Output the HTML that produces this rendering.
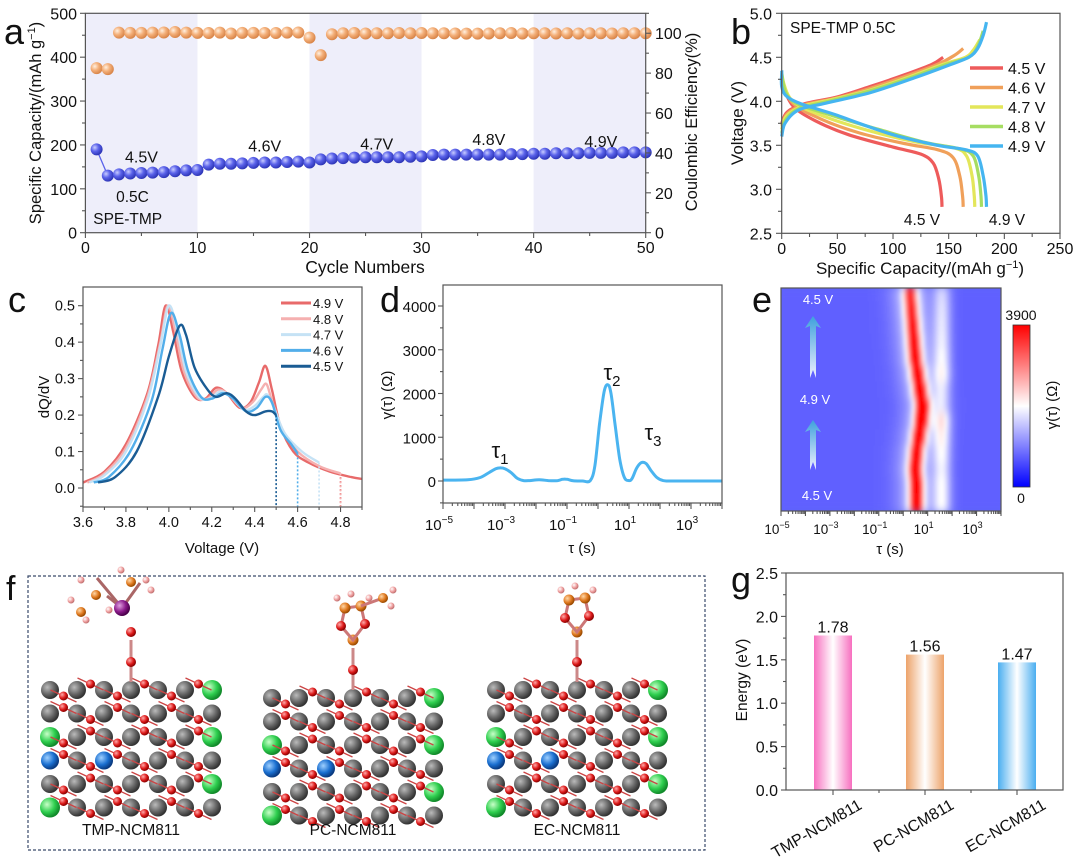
<!DOCTYPE html>
<html><head><meta charset="utf-8"><style>
html,body{margin:0;padding:0;background:#fff}
svg{display:block;font-family:"Liberation Sans",Arial,sans-serif}
</style></head><body>
<svg id="fig" width="1080" height="865" viewBox="0 0 1080 865" xmlns="http://www.w3.org/2000/svg">
<defs>
<radialGradient id="gBlue" cx="35%" cy="35%" r="65%"><stop offset="0" stop-color="#c8ccff"/><stop offset="0.5" stop-color="#5a62ea"/><stop offset="1" stop-color="#2f37b8"/></radialGradient>
<radialGradient id="gOr" cx="35%" cy="35%" r="65%"><stop offset="0" stop-color="#fff0e0"/><stop offset="0.5" stop-color="#f4b07a"/><stop offset="1" stop-color="#d9864a"/></radialGradient>
<radialGradient id="gGrey" cx="35%" cy="35%" r="65%"><stop offset="0" stop-color="#bbb"/><stop offset="0.6" stop-color="#666"/><stop offset="1" stop-color="#333"/></radialGradient>
<radialGradient id="gRed" cx="35%" cy="35%" r="65%"><stop offset="0" stop-color="#ffaaaa"/><stop offset="0.6" stop-color="#dd1a1a"/><stop offset="1" stop-color="#8a0000"/></radialGradient>
<radialGradient id="gGreen" cx="35%" cy="35%" r="65%"><stop offset="0" stop-color="#c8ffc8"/><stop offset="0.6" stop-color="#2fcf4f"/><stop offset="1" stop-color="#118a2a"/></radialGradient>
<radialGradient id="gBlu2" cx="35%" cy="35%" r="65%"><stop offset="0" stop-color="#9fd0ff"/><stop offset="0.6" stop-color="#1a6fd0"/><stop offset="1" stop-color="#0a3a80"/></radialGradient>
<radialGradient id="gOr2" cx="35%" cy="35%" r="65%"><stop offset="0" stop-color="#ffd8a8"/><stop offset="0.6" stop-color="#e07a20"/><stop offset="1" stop-color="#9a4a00"/></radialGradient>
<radialGradient id="gPur" cx="35%" cy="35%" r="65%"><stop offset="0" stop-color="#e0a0e0"/><stop offset="0.6" stop-color="#8a1a8a"/><stop offset="1" stop-color="#4a004a"/></radialGradient>
<radialGradient id="gPink" cx="35%" cy="35%" r="65%"><stop offset="0" stop-color="#fff"/><stop offset="0.6" stop-color="#f0a0a0"/><stop offset="1" stop-color="#c07070"/></radialGradient>
<linearGradient id="barPink" x1="0" x2="1"><stop offset="0" stop-color="#f76fbf"/><stop offset="0.5" stop-color="#fff"/><stop offset="1" stop-color="#f76fbf"/></linearGradient>
<linearGradient id="barOr" x1="0" x2="1"><stop offset="0" stop-color="#eda36a"/><stop offset="0.5" stop-color="#fff"/><stop offset="1" stop-color="#eda36a"/></linearGradient>
<linearGradient id="barBl" x1="0" x2="1"><stop offset="0" stop-color="#4aaef0"/><stop offset="0.5" stop-color="#fff"/><stop offset="1" stop-color="#4aaef0"/></linearGradient>
<linearGradient id="cbar" x1="0" y1="1" x2="0" y2="0"><stop offset="0" stop-color="#0000ff"/><stop offset="0.5" stop-color="#ffffff"/><stop offset="1" stop-color="#ff0000"/></linearGradient>
<linearGradient id="arrowG" x1="0" y1="1" x2="0" y2="0"><stop offset="0" stop-color="#ffffff"/><stop offset="1" stop-color="#3aa8d8"/></linearGradient>
<filter id="blur" x="-5%" y="-5%" width="110%" height="110%"><feGaussianBlur stdDeviation="1.5 5"/></filter>
<clipPath id="clipE"><rect x="781" y="288" width="220" height="223"/></clipPath>
<clipPath id="clipD"><rect x="443" y="285" width="279" height="218"/></clipPath>
<clipPath id="clipC"><rect x="83" y="287" width="279" height="220"/></clipPath>
</defs>
<g id="root"></g>
</svg>
<script>
// ---------- DATA ----------
// panel a
const cyclesA = [1,2,3,4,5,6,7,8,9,10,11,12,13,14,15,16,17,18,19,20,21,22,23,24,25,26,27,28,29,30,31,32,33,34,35,36,37,38,39,40,41,42,43,44,45,46,47,48,49,50];
const capacityA = [190,130,133,135,136,137,138,140,142,143,155,157,157,158,159,160,160,161,162,160,167,169,170,171,172,172,172,172,173,174,177,178,178,178,178,178,178,179,179,180,180,181,181,181,182,182,182,183,183,183];
const ceA = [82.5,82,100.3,100.2,100.2,100.3,100.4,100.6,100.3,100.2,100.1,100.3,99.9,100.2,100.2,100.1,100.1,100.3,100.4,97.8,89,99.5,100,100.1,99.9,100,100,100.1,100,100.1,100,100,99.9,99.8,99.8,99.9,100,100.1,99.9,100,100,99.9,100,99.9,100,100,99.9,100,100,100];
const voltLabelsA = ["4.5V","4.6V","4.7V","4.8V","4.9V"];
// panel b
const seriesB = ["4.5 V","4.6 V","4.7 V","4.8 V","4.9 V"];
const chargeB = [
 [[0,3.75],[5,3.88],[20,3.97],[50,4.05],[80,4.17],[110,4.3],[135,4.42],[145,4.5]],
 [[0,3.72],[5,3.86],[20,3.96],[50,4.04],[80,4.15],[110,4.28],[140,4.42],[155,4.52],[163,4.6]],
 [[0,3.68],[4,3.83],[18,3.94],[45,4.02],[80,4.13],[115,4.28],[145,4.42],[165,4.5],[172,4.58],[178,4.7]],
 [[0,3.64],[4,3.8],[16,3.92],[42,4.0],[80,4.12],[118,4.28],[148,4.42],[168,4.5],[176,4.62],[181,4.8]],
 [[0,3.6],[3,3.75],[15,3.9],[40,3.98],[80,4.1],[120,4.27],[150,4.41],[168,4.5],[176,4.6],[181,4.75],[184,4.9]]];
const dischargeB = [
 [[0,4.2],[10,3.95],[30,3.78],[60,3.62],[100,3.48],[125,3.4],[136,3.3],[141,3.12],[143.5,2.92],[144,2.8]],
 [[0,4.24],[10,3.98],[35,3.8],[70,3.64],[110,3.52],[140,3.45],[154,3.36],[160,3.15],[162.5,2.92],[163,2.8]],
 [[0,4.28],[10,4.0],[40,3.82],[80,3.66],[120,3.54],[155,3.47],[166,3.38],[171,3.15],[173,2.92],[173.5,2.8]],
 [[0,4.32],[8,4.02],[45,3.84],[90,3.67],[130,3.53],[160,3.46],[172,3.38],[177,3.15],[179,2.92],[179.5,2.8]],
 [[0,4.35],[5,4.05],[50,3.84],[100,3.62],[140,3.5],[165,3.45],[176,3.38],[181,3.15],[183.5,2.92],[184,2.8]]];
// panel c
const seriesC = ["4.9 V","4.8 V","4.7 V","4.6 V","4.5 V"];
const dqdvC = [
 [[3.6,0.015],[3.7,0.045],[3.8,0.12],[3.9,0.26],[3.95,0.39],[3.985,0.5],[4.02,0.43],[4.06,0.32],[4.12,0.25],[4.17,0.245],[4.22,0.275],[4.27,0.26],[4.33,0.22],[4.38,0.235],[4.42,0.29],[4.45,0.335],[4.48,0.27],[4.52,0.17],[4.58,0.1],[4.65,0.07],[4.75,0.045],[4.85,0.03],[4.9,0.025]],
 [[3.62,0.015],[3.7,0.04],[3.8,0.11],[3.9,0.25],[3.96,0.4],[3.995,0.5],[4.03,0.43],[4.07,0.32],[4.13,0.25],[4.18,0.245],[4.23,0.27],[4.28,0.255],[4.34,0.22],[4.39,0.235],[4.43,0.27],[4.455,0.285],[4.48,0.24],[4.53,0.16],[4.6,0.1],[4.7,0.06],[4.8,0.04]],
 [[3.63,0.015],[3.7,0.035],[3.8,0.1],[3.9,0.24],[3.96,0.39],[4.0,0.5],[4.04,0.43],[4.08,0.32],[4.14,0.25],[4.19,0.245],[4.24,0.265],[4.29,0.25],[4.35,0.215],[4.4,0.225],[4.44,0.25],[4.46,0.255],[4.49,0.22],[4.54,0.15],[4.62,0.1],[4.7,0.07]],
 [[3.65,0.015],[3.72,0.03],[3.82,0.1],[3.92,0.24],[3.97,0.38],[4.01,0.48],[4.05,0.42],[4.09,0.32],[4.15,0.25],[4.2,0.245],[4.25,0.26],[4.3,0.245],[4.36,0.21],[4.41,0.22],[4.45,0.25],[4.48,0.235],[4.52,0.16],[4.57,0.12],[4.6,0.095]],
 [[3.67,0.015],[3.75,0.03],[3.85,0.1],[3.95,0.25],[4.0,0.36],[4.05,0.445],[4.08,0.42],[4.12,0.33],[4.18,0.27],[4.22,0.25],[4.27,0.26],[4.31,0.245],[4.36,0.21],[4.4,0.2],[4.45,0.21],[4.48,0.21],[4.5,0.2]]];
const cutoffC = [4.8,4.8,4.7,4.6,4.5];
const cutoffValC = [0.03,0.04,0.07,0.095,0.2];
// panel d
const logTauD = [-5,-4.2,-3.8,-3.5,-3.3,-3.15,-3.0,-2.8,-2.6,-2.4,-2.2,-1.9,-1.6,-1.3,-1.15,-1.0,-0.8,-0.5,-0.25,-0.1,0.05,0.2,0.32,0.42,0.55,0.7,0.85,1.0,1.1,1.25,1.4,1.55,1.7,1.9,2.1,2.3,3,4];
const gammaD = [20,30,80,200,280,300,280,190,60,10,10,30,10,10,40,40,5,0,10,350,1300,2050,2200,2000,1300,500,80,10,60,300,420,400,250,80,10,0,0,0];
// panel e (rows top->bottom)
const rowPeakE = [0.25,0.3,0.35,0.4,0.45,0.55,0.65,0.75,0.7,0.6,0.5,0.45,0.5,0.5];
const rowAmpE = [0.66,0.7,0.74,0.78,0.82,0.86,0.92,1.0,0.98,0.9,0.82,0.84,0.86,0.84];
const rowAmp3E = [0.22,0.24,0.25,0.26,0.28,0.3,0.22,0.2,0.32,0.3,0.28,0.26,0.28,0.28];
// panel g
const catsG = ["TMP-NCM811","PC-NCM811","EC-NCM811"];
const valsG = [1.78,1.56,1.47];

// ---------- HELPERS ----------
const NS="http://www.w3.org/2000/svg";
const root=document.getElementById('root');
function mk(tag,attrs,parent,txt){const e=document.createElementNS(NS,tag);for(const k in attrs)e.setAttribute(k,attrs[k]);if(txt!==undefined)e.textContent=txt;(parent||root).appendChild(e);return e;}
function txt(x,y,s,size,opt,parent){opt=opt||{};const a={x:x,y:y,'font-size':size,fill:opt.fill||'#111','text-anchor':opt.anchor||'middle'};if(opt.rot!==undefined)a.transform='rotate('+opt.rot+' '+x+' '+y+')';if(opt.style)a.style=opt.style;const e=mk('text',a,parent,s);return e;}
function lin(d0,d1,p0,p1){return v=>p0+(v-d0)*(p1-p0)/(d1-d0);}
function smooth(pts){if(pts.length<2)return'';let d='M'+pts[0][0].toFixed(1)+','+pts[0][1].toFixed(1);for(let i=0;i<pts.length-1;i++){const p0=pts[i-1]||pts[i],p1=pts[i],p2=pts[i+1],p3=pts[i+2]||p2;const c1=[p1[0]+(p2[0]-p0[0])/6,p1[1]+(p2[1]-p0[1])/6],c2=[p2[0]-(p3[0]-p1[0])/6,p2[1]-(p3[1]-p1[1])/6];d+='C'+c1[0].toFixed(1)+','+c1[1].toFixed(1)+' '+c2[0].toFixed(1)+','+c2[1].toFixed(1)+' '+p2[0].toFixed(1)+','+p2[1].toFixed(1);}return d;}
function box(x,y,w,h,name){const r=mk('rect',{x:x,y:y,width:w,height:h,fill:'none',stroke:'#555','stroke-width':1.2});}
function tick(x1,y1,x2,y2){mk('line',{x1:x1,y1:y1,x2:x2,y2:y2,stroke:'#555','stroke-width':1.1});}

// ---------- PANEL A ----------
(function(){
const g=mk('g',{});
const X=lin(0,50,85.4,645.7),Y=lin(0,500,232.7,13.3),Y2=lin(0,110,232.7,13.3);
[[0,10],[20,30],[40,50]].forEach(r=>{const e=mk('rect',{x:X(r[0]),y:13.3,width:X(r[1])-X(r[0]),height:219.4,fill:'#eeeefa'},g);});
box(85.4,13.3,560.3,219.4,'plot-area-a');
for(let v=0;v<=500;v+=50){const y=Y(v);tick(85.4,y,v%100?82:80,y);if(v%100===0)txt(77,y+6,String(v),16,{anchor:'end',name:'y-tick-label'},g);}
for(let v=0;v<=110;v+=10){const y=Y2(v);tick(645.7,y,v%20?649:651,y);if(v%20===0&&v<=100)txt(655,y+6,String(v),16,{anchor:'start',name:'y2-tick-label'},g);}
for(let v=0;v<=50;v+=5){const x=X(v);tick(x,232.7,x,v%10?236:238);if(v%10===0)txt(x,253,String(v),16,{name:'x-tick-label'},g);}
txt(365,273,'Cycle Numbers',17.5,{name:'x-axis-title'},g);
const yt=txt(41,123,'Specific Capacity/(mAh g',16.5,{rot:-90,name:'y-axis-title'},g);
mk('tspan',{dy:-6,'font-size':11},yt,'−1');mk('tspan',{dy:6},yt,')');
txt(697,122,'Coulombic Efficiency(%)',16.5,{rot:-90,name:'y2-axis-title'},g);
txt(4,44,'a',36,{anchor:'start',name:'panel-label-a'},g);
let d='';cyclesA.forEach((c,i)=>{d+=(i?'L':'M')+X(c)+','+Y(capacityA[i]);});
const ln=mk('path',{d:d,fill:'none',stroke:'#5a62ea','stroke-width':1.3},g);
cyclesA.forEach((c,i)=>{const p=mk('circle',{cx:X(c),cy:Y(capacityA[i]),r:6,fill:'url(#gBlue)'},g);});
cyclesA.forEach((c,i)=>{const p=mk('circle',{cx:X(c),cy:Y2(ceA[i]),r:6,fill:'url(#gOr)'},g);});
const ann=[[5,160],[16,185],[26,190],[36,200],[46,195]];
voltLabelsA.forEach((s,i)=>txt(X(ann[i][0]),Y(ann[i][1]),s,16,{name:'voltage-annotation'},g));
txt(X(4.2),Y(70),'0.5C',15.5,{name:'rate-annotation'},g);
txt(X(0.7),Y(20),'SPE-TMP',15.5,{anchor:'start',name:'sample-annotation'},g);
})();

// ---------- PANEL B ----------
(function(){
const g=mk('g',{});
const X=lin(0,250,781.7,1060),Y=lin(2.5,5,233.3,13.3);
const cols=['#ee5b5b','#f0a05a','#e3e65a','#a6dd62','#45b5f0'];
box(781.7,13.3,278.3,220,'plot-area-b');
for(let v=2.5;v<=5.001;v+=0.25){const y=Y(v);const major=Math.abs(v*2-Math.round(v*2))<0.01;tick(781.7,y,major?776:778,y);if(major)txt(772,y+6,v.toFixed(1),16,{anchor:'end',name:'y-tick-label'},g);}
for(let v=0;v<=250;v+=25){const x=X(v);tick(x,233.3,x,v%50?237:239);if(v%50===0)txt(x,254,String(v),16,{name:'x-tick-label'},g);}
const xt=txt(920,274,'Specific Capacity/(mAh g',17,{name:'x-axis-title'},g);mk('tspan',{dy:-6,'font-size':11},xt,'−1');mk('tspan',{dy:6},xt,')');
txt(743,123,'Voltage (V)',17,{rot:-90,name:'y-axis-title'},g);
txt(731,44,'b',36,{anchor:'start',name:'panel-label-b'},g);
txt(790,33,'SPE-TMP 0.5C',15.5,{anchor:'start',name:'condition-annotation'},g);
seriesB.forEach((s,i)=>{
 [chargeB[i],dischargeB[i]].forEach((arr,k)=>{const p=mk('path',{d:smooth(arr.map(q=>[X(q[0]),Y(q[1])])),fill:'none',stroke:cols[i],'stroke-width':3.2},g);});
});
seriesB.forEach((s,i)=>{const y=68+i*19.5;const l=mk('line',{x1:970,y1:y,x2:1003,y2:y,stroke:cols[i],'stroke-width':3.5},g);txt(1008,y+6,s,16,{anchor:'start',name:'legend-entry'},g);});
txt(922,225,'4.5 V',15.5,{name:'curve-annotation'},g);
txt(1007,225,'4.9 V',15.5,{name:'curve-annotation'},g);
})();

// ---------- PANEL C ----------
(function(){
const g=mk('g',{});
const X=lin(3.6,4.9,83,362),Y=lin(0,0.5,488,305.7);
const cols=['#e86a6a','#f5b0b0','#c5e2f5','#52aeea','#1a5c94'];
box(83,287,279,220,'plot-area-c');
for(let i=-1;i<=10;i++){const v=i*0.05;const y=Y(v);if(y<287)continue;tick(83,y,i%2?80:78,y);if(i%2===0&&i>=0)txt(75,y+5,v.toFixed(1),14.5,{anchor:'end',name:'y-tick-label'},g);}
for(let i=0;i<=13;i++){const v=3.6+i*0.1;const x=X(v);tick(x,507,x,i%2?510:512);if(i%2===0&&i<13)txt(x,527,v.toFixed(1),14.5,{name:'x-tick-label'},g);}
txt(222,553,'Voltage (V)',15,{name:'x-axis-title'},g);
txt(49,397,'dQ/dV',15,{rot:-90,name:'y-axis-title'},g);
txt(8,312,'c',36,{anchor:'start',name:'panel-label-c'},g);
const cg=mk('g',{'clip-path':'url(#clipC)'},g);
seriesC.forEach((s,i)=>{
 const p=mk('path',{d:smooth(dqdvC[i].map(q=>[X(q[0]),Y(q[1])])),fill:'none',stroke:cols[i],'stroke-width':2.4},cg);
 const l=mk('line',{x1:X(cutoffC[i]),y1:Y(cutoffValC[i]),x2:X(cutoffC[i]),y2:507,stroke:cols[i],'stroke-width':1.6,'stroke-dasharray':'2 2'},cg);
});
seriesC.forEach((s,i)=>{const y=303+i*15.8;const l=mk('line',{x1:281,y1:y,x2:311,y2:y,stroke:cols[i],'stroke-width':3},g);txt(313,y+5,s,13,{anchor:'start',name:'legend-entry'},g);});
})();

// ---------- PANEL D ----------
(function(){
const g=mk('g',{});
const X=lin(-5,3,443,691),Y=lin(0,1000,481,437.25);
box(443,285,279,218,'plot-area-d');
for(let v=-500;v<=4000;v+=500){const y=Y(v);tick(443,y,v%1000?440:438,y);if(v%1000===0)txt(436,y+6,String(v),15,{anchor:'end',name:'y-tick-label'},g);}
for(let k=-5;k<=4;k++){const x=X(k);tick(x,503,x,509);for(let m=2;m<10&&k<4;m++){const xm=X(k+Math.log10(m));tick(xm,503,xm,506);}
 if((k+5)%2===0&&k<4){const t=txt(x-4,530,'10',15,{name:'x-tick-label'},g);mk('tspan',{dy:-7,'font-size':10},t,String(k).replace('-','−'));}}
txt(582,553,'τ  (s)',15,{name:'x-axis-title'},g);
txt(392,395,'γ(τ) (Ω)',15,{rot:-90,name:'y-axis-title'},g);
txt(380,312,'d',36,{anchor:'start',name:'panel-label-d'},g);
const pts=logTauD.map((v,i)=>[X(v),Y(gammaD[i])]);
const p=mk('path',{d:smooth(pts),fill:'none',stroke:'#4ab4f0','stroke-width':3,'clip-path':'url(#clipD)'},g);
[[500,458,'1'],[612,380,'2'],[653,440,'3']].forEach(a=>{const t=txt(a[0],a[1],'τ',22,{name:'peak-annotation'},g);mk('tspan',{dy:6,'font-size':15},t,a[2]);});
})();

// ---------- PANEL E ----------
(function(){
const g=mk('g',{});
const X=lin(-5,4,781,1001);const top=288,bot=511,nR=rowPeakE.length,rh=(bot-top)/nR;
const hg=mk('g',{'clip-path':'url(#clipE)'},g);
mk('rect',{x:781,y:top,width:220,height:223,fill:'rgb(92,104,245)'},hg);
const hb=mk('g',{filter:'url(#blur)'},hg);
function col(v){v=Math.max(0,Math.min(1,v));let r,gg,b;if(v<0.5){const t=v/0.5;r=255*t;gg=255*t;b=255;}else{const t=(v-0.5)/0.5;r=255;gg=255*(1-t);b=255*(1-t);}return 'rgb('+r.toFixed(0)+','+gg.toFixed(0)+','+b.toFixed(0)+')';}
for(let r=0;r<nR;r++){for(let c=-5;c<4;c+=0.08){const d2=(c-rowPeakE[r])/0.2,dw=(c-rowPeakE[r])/0.55,d3=(c-1.55)/0.25;
 const v=0.19+rowAmpE[r]*Math.exp(-d2*d2/2)*0.82+0.2*Math.exp(-dw*dw/2)+rowAmp3E[r]*Math.exp(-d3*d3/2);
 const e=mk('rect',{x:X(c),y:top+r*rh-2,width:X(0.08)-X(0)+0.6,height:rh+4,fill:col(v)},hb);}}
box(781,288,220,223,'plot-area-e');
for(let k=-5;k<=4;k++){const x=X(k);tick(x,511,x,516);for(let m=2;m<10&&k<4;m++){const xm=X(k+Math.log10(m));tick(xm,511,xm,514);}
 if((k+5)%2===0&&k<4){const t=txt(x-4,534,'10',13.5,{name:'x-tick-label'},g);mk('tspan',{dy:-6,'font-size':9},t,String(k).replace('-','−'));}}
txt(890,554,'τ (s)',15,{name:'x-axis-title'},g);
txt(752,312,'e',36,{anchor:'start',name:'panel-label-e'},g);
[[378,316],[470,420]].forEach(a=>{const ar=mk('path',{d:'M810,'+a[0]+' L810,'+(a[1]+10)+' L805,'+(a[1]+12)+' L813,'+a[1]+' L821,'+(a[1]+12)+' L816,'+(a[1]+10)+' L816,'+a[0]+' L813,'+(a[0]-8)+'Z',fill:'url(#arrowG)',opacity:0.9},g);});
txt(818,304,'4.5 V',13,{fill:'#fff',name:'voltage-annotation'},g);
txt(815,404,'4.9 V',13,{fill:'#fff',name:'voltage-annotation'},g);
txt(817,500,'4.5 V',13,{fill:'#fff',name:'voltage-annotation'},g);
const cb=mk('rect',{x:1013,y:325,width:17,height:162,fill:'url(#cbar)',stroke:'#333','stroke-width':0.8},g);
txt(1021,320,'3900',14,{name:'colorbar-max-label'},g);
txt(1021,503,'0',14,{name:'colorbar-min-label'},g);
txt(1057,405,'γ(τ) (Ω)',15,{rot:-90,name:'colorbar-title'},g);
})();

// ---------- PANEL F ----------
(function(){
const g=mk('g',{});
const fr=mk('rect',{x:28,y:576,width:677,height:274,fill:'none',stroke:'#3a4a6a','stroke-width':1.2,'stroke-dasharray':'3 2'},g);
txt(6,600,'f',34,{anchor:'start',name:'panel-label-f'},g);
const slabs=[{x:50,label:'TMP-NCM811',y0:690},{x:272,label:'PC-NCM811',y0:698},{x:496,label:'EC-NCM811',y0:690}];
slabs.forEach((s,si)=>{
 const sg=mk('g',{},g);
 for(let r=0;r<6;r++)for(let c=0;c<7;c++){const x=s.x+c*27,y=s.y0+r*23.5;
  const edge=(c===6&&r%2===0)||(c===0&&r%3===2);const blue=(r===3&&(c===0||c===2));
  mk('circle',{cx:x,cy:y,r:edge?10:9,fill:edge?'url(#gGreen)':blue?'url(#gBlu2)':'url(#gGrey)'},sg);}
 for(let r=0;r<6;r++)for(let c=0;c<6;c++){const x=s.x+13.5+c*27,y=s.y0+r*23.5+((c+r)%2?-6:6);
  mk('line',{x1:x-13,y1:y-6,x2:x+13,y2:y+6,stroke:'#c44','stroke-width':1.3},sg);mk('circle',{cx:x,cy:y,r:4.5,fill:'url(#gRed)'},sg);}
 const cx=s.x+81;
 mk('line',{x1:cx,y1:s.y0-8,x2:cx,y2:s.y0-50,stroke:'#c88','stroke-width':3},sg);
 mk('circle',{cx:cx,cy:s.y0-28,r:5,fill:'url(#gRed)'},sg);
 if(si===0){mk('circle',{cx:cx,cy:s.y0-58,r:5,fill:'url(#gRed)'},sg);
  [[-25,-10],[-15,8],[18,-5]].forEach(o=>{mk('line',{x1:cx-9,y1:s.y0-82,x2:cx-9+o[0],y2:s.y0-82+o[1]-20,stroke:'#a66','stroke-width':3},sg);});
  mk('circle',{cx:cx-9,cy:s.y0-82,r:8,fill:'url(#gPur)'},sg);
  [[-35,-95],[0,-108],[-50,-78]].forEach(o=>mk('circle',{cx:cx+o[0],cy:s.y0+o[1],r:5,fill:'url(#gOr2)'},sg));
  [[-50,-110],[-60,-90],[-45,-70],[-10,-120],[15,-110],[20,-100],[-22,-80]].forEach(o=>mk('circle',{cx:cx+o[0],cy:s.y0+o[1],r:3.5,fill:'url(#gPink)'},sg));
 }else{
  mk('circle',{cx:cx,cy:s.y0-58,r:5.5,fill:'url(#gOr2)'},sg);
  const ring=[[-12,-72],[-8,-90],[8,-92],[12,-74]];
  mk('polygon',{points:[[0,-58]].concat(ring).map(p=>(cx+p[0])+','+(s.y0+p[1])).join(' '),fill:'none',stroke:'#c77','stroke-width':3},sg);
  ring.forEach((p,k)=>mk('circle',{cx:cx+p[0],cy:s.y0+p[1],r:k%3===0?5:5.5,fill:k%3===0?'url(#gRed)':'url(#gOr2)'},sg));
  [[-16,-100],[16,-100],[-2,-104]].forEach(o=>mk('circle',{cx:cx+o[0],cy:s.y0+o[1],r:3.5,fill:'url(#gPink)'},sg));
  if(si===1){mk('line',{x1:cx+8,y1:s.y0-92,x2:cx+30,y2:s.y0-100,stroke:'#c77','stroke-width':3},sg);mk('circle',{cx:cx+30,cy:s.y0-100,r:5,fill:'url(#gOr2)'},sg);[[40,-108],[38,-92]].forEach(o=>mk('circle',{cx:cx+o[0],cy:s.y0+o[1],r:3.5,fill:'url(#gPink)'},sg));}
 }
 txt(s.x+81,835,s.label,15.5,{name:'structure-label'},g);
});
})();

// ---------- PANEL G ----------
(function(){
const g=mk('g',{});
const Y=lin(0,2.5,790,573);const cx=[833,925,1017];const fills=['url(#barPink)','url(#barOr)','url(#barBl)'];
box(786,573,277,217,'plot-area-g');
for(let i=0;i<=10;i++){const v=i*0.25;const y=Y(v);tick(786,y,i%2?783:781,y);if(i%2===0)txt(778,y+6,v.toFixed(1),16,{anchor:'end',name:'y-tick-label'},g);}
cx.forEach(x=>tick(x,790,x,795));
[879,971].forEach(x=>tick(x,790,x,793));
txt(747,680,'Energy (eV)',15.5,{rot:-90,name:'y-axis-title'},g);
txt(731,592,'g',36,{anchor:'start',name:'panel-label-g'},g);
catsG.forEach((c,i)=>{const b=mk('rect',{x:cx[i]-19,y:Y(valsG[i]),width:38,height:790-Y(valsG[i]),fill:fills[i]},g);
 txt(cx[i],Y(valsG[i])-3,valsG[i].toFixed(2),16,{name:'bar-value-label'},g);
 txt(cx[i]+30,808,c,16,{anchor:'end',rot:-30,name:'x-category-label'},g);});
})();
</script>
</body></html>
